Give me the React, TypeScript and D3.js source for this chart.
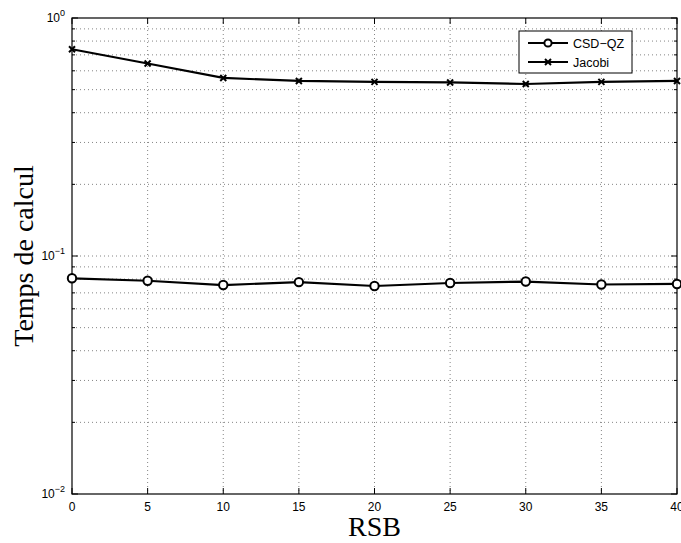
import React from "react";
import * as d3 from "d3";

const rsb = [0, 5, 10, 15, 20, 25, 30, 35, 40];
const csdqz = [0.0806, 0.0787, 0.0755, 0.0777, 0.0748, 0.077, 0.0781, 0.0759, 0.0763];
const jacobi = [0.739, 0.644, 0.56, 0.544, 0.539, 0.536, 0.528, 0.539, 0.544];
const xTicks = [0, 5, 10, 15, 20, 25, 30, 35, 40];
const yDecades = [0, -1, -2];
const seriesNames = ["CSD\u2212QZ", "Jacobi"];

const W = 681, H = 543;
const M = { left: 72, right: 677, top: 18, bottom: 494 };

export default function App() {
  const x = d3.scaleLinear().domain([0, 40]).range([M.left, M.right]);
  const y = d3.scaleLog().domain([0.01, 1]).range([M.bottom, M.top]);
  const line = d3
    .line<number>()
    .x((_, i) => x(rsb[i]))
    .y((d) => y(d));

  const minor: number[] = [];
  for (const e of [-2, -1]) for (let k = 2; k <= 9; k++) minor.push(k * Math.pow(10, e));
  const majors = yDecades.map((e) => Math.pow(10, e));

  const grid = { stroke: "#666", strokeWidth: 0.8, strokeDasharray: "1,3" };
  const font = "Liberation Sans, Arial, Helvetica, sans-serif";
  const serif = "Liberation Serif, Times New Roman, serif";

  const lx = 519, ly = 31, lw = 113, lh = 42;

  return (
    <svg width={W} height={H} style={{ position: "absolute", left: 0, top: 0 }}>
      <rect x={0} y={0} width={W} height={H} fill="white" />
      {/* grid */}
      {xTicks.slice(1, -1).map((t) => (
        <line key={"gx" + t} x1={x(t)} x2={x(t)} y1={M.top} y2={M.bottom} {...grid} />
      ))}
      {[...minor, ...majors.slice(1, 2)].map((v, i) => (
        <line key={"gy" + i} x1={M.left} x2={M.right} y1={y(v)} y2={y(v)} {...grid} />
      ))}
      {/* ticks */}
      {xTicks.map((t) => (
        <g key={"tx" + t}>
          <line x1={x(t)} x2={x(t)} y1={M.bottom} y2={M.bottom - 6} stroke="black" />
          <line x1={x(t)} x2={x(t)} y1={M.top} y2={M.top + 6} stroke="black" />
          <text x={x(t)} y={M.bottom + 17} textAnchor="middle" fontFamily={font} fontSize={12}>
            {t}
          </text>
        </g>
      ))}
      {minor.map((v, i) => (
        <g key={"my" + i}>
          <line x1={M.left} x2={M.left + 3} y1={y(v)} y2={y(v)} stroke="black" />
          <line x1={M.right} x2={M.right - 3} y1={y(v)} y2={y(v)} stroke="black" />
        </g>
      ))}
      {yDecades.map((e) => (
        <g key={"ty" + e}>
          <line x1={M.left} x2={M.left + 6} y1={y(Math.pow(10, e))} y2={y(Math.pow(10, e))} stroke="black" />
          <line x1={M.right} x2={M.right - 6} y1={y(Math.pow(10, e))} y2={y(Math.pow(10, e))} stroke="black" />
          <text x={M.left - 7} y={y(Math.pow(10, e)) + 4} textAnchor="end" fontFamily={font} fontSize={12}>
            10
            <tspan dy={-6} fontSize={9}>
              {e === 0 ? "0" : "\u2212" + Math.abs(e)}
            </tspan>
          </text>
        </g>
      ))}
      {/* frame */}
      <rect x={M.left} y={M.top} width={M.right - M.left} height={M.bottom - M.top} fill="none" stroke="black" strokeWidth={1.2} />
      {/* series */}
      <path d={line(csdqz) || ""} fill="none" stroke="black" strokeWidth={2.2} />
      {csdqz.map((v, i) => (
        <circle key={"c" + i} cx={x(rsb[i])} cy={y(v)} r={4.2} fill="white" stroke="black" strokeWidth={2} />
      ))}
      <path d={line(jacobi) || ""} fill="none" stroke="black" strokeWidth={2.2} />
      {jacobi.map((v, i) => (
        <g key={"j" + i} stroke="black" strokeWidth={2}>
          <line x1={x(rsb[i]) - 3} x2={x(rsb[i]) + 3} y1={y(v) - 3} y2={y(v) + 3} />
          <line x1={x(rsb[i]) - 3} x2={x(rsb[i]) + 3} y1={y(v) + 3} y2={y(v) - 3} />
        </g>
      ))}
      {/* legend */}
      <rect x={lx} y={ly} width={lw} height={lh} fill="white" stroke="black" strokeWidth={1} />
      {seriesNames.map((n, i) => {
        const yy = ly + 12 + i * 19;
        return (
          <g key={n}>
            <line x1={lx + 9} x2={lx + 49} y1={yy} y2={yy} stroke="black" strokeWidth={2.2} />
            {i === 0 ? (
              <circle cx={lx + 29} cy={yy} r={3.6} fill="white" stroke="black" strokeWidth={2} />
            ) : (
              <g stroke="black" strokeWidth={2}>
                <line x1={lx + 26} x2={lx + 32} y1={yy - 3} y2={yy + 3} />
                <line x1={lx + 26} x2={lx + 32} y1={yy + 3} y2={yy - 3} />
              </g>
            )}
            <text x={lx + 54} y={yy + 4.5} fontFamily={font} fontSize={12.5}>
              {n}
            </text>
          </g>
        );
      })}
      {/* axis titles */}
      <text x={(M.left + M.right) / 2} y={536} textAnchor="middle" fontFamily={serif} fontSize={28}>
        RSB
      </text>
      <text
        transform={`translate(33, ${(M.top + M.bottom) / 2}) rotate(-90)`}
        textAnchor="middle"
        fontFamily={serif}
        fontSize={28}
      >
        Temps de calcul
      </text>
    </svg>
  );
}
